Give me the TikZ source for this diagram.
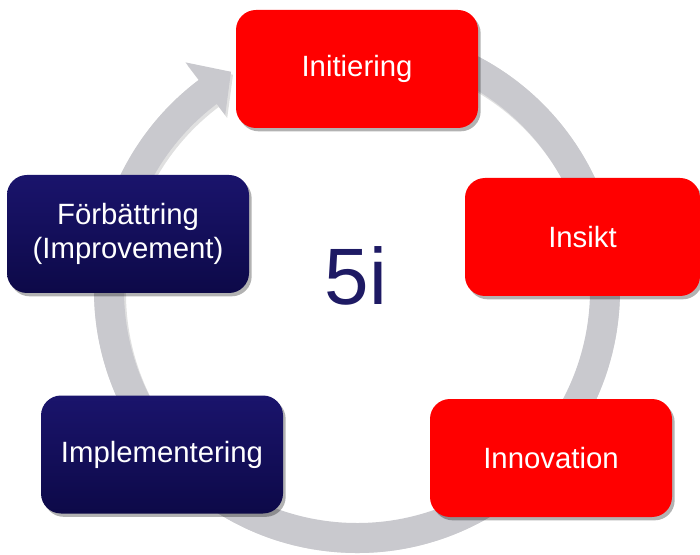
\documentclass[tikz,border=0pt]{standalone}
\usepackage{fontspec}
\setmainfont{Liberation Sans}
\usetikzlibrary{shadows}
\definecolor{ringgray}{RGB}{201,201,206}
\definecolor{boxred}{RGB}{255,0,0}
\definecolor{navytop}{RGB}{26,20,108}
\definecolor{navybot}{RGB}{13,9,72}
\definecolor{navytext}{RGB}{30,26,100}
\tikzset{
  box/.style={rounded corners=15pt, minimum width=181.5pt, minimum height=88.5pt,
    text=white, align=center, font=\fontsize{22}{25.5}\selectfont, inner sep=0pt,
    drop shadow={shadow xshift=2pt, shadow yshift=-2.5pt, opacity=0.3, fill=black}},
  redbox/.style={box, fill=boxred},
  navybox/.style={box, top color=navytop, bottom color=navybot},
}
\begin{document}
\begin{tikzpicture}[x=0.75pt,y=0.75pt]
\useasboundingbox (0,0) rectangle (700,554);
\coordinate (c) at (357,264);
% ring shadow
\fill[black, opacity=0.12, shift={(2,-3)}] (c) ++(85:263) arc[start angle=85, end angle=-233, radius=263]
  -- ([shift={(c)}]-233:285) -- ([shift={(c)}]-240:252) -- ([shift={(c)}]-233:219)
  -- ([shift={(c)}]-233:233) arc[start angle=-233, end angle=85, radius=233] -- cycle;
% ring
\fill[ringgray] (c) ++(85:263) arc[start angle=85, end angle=-233, radius=263]
  -- ([shift={(c)}]-233:285) -- ([shift={(c)}]-240:252) -- ([shift={(c)}]-233:219)
  -- ([shift={(c)}]-233:233) arc[start angle=-233, end angle=85, radius=233] -- cycle;
% boxes
\node[redbox] (init) at (357,485) {Initiering};
\node[redbox, minimum width=176.25pt] (insikt) at (582.5,317) {Insikt};
\node[redbox] (innov) at (551,96) {Innovation};
\node[navybox] (impl) at (162,99.5) {Implementering};
\node[navybox] (forb) at (128,320) {Förbättring\\(Improvement)};
% center
\node[anchor=base, text=navytext, font=\fontsize{60}{60}\selectfont, inner sep=0pt] (five) at (356,249) {5i};
\end{tikzpicture}
\end{document}
